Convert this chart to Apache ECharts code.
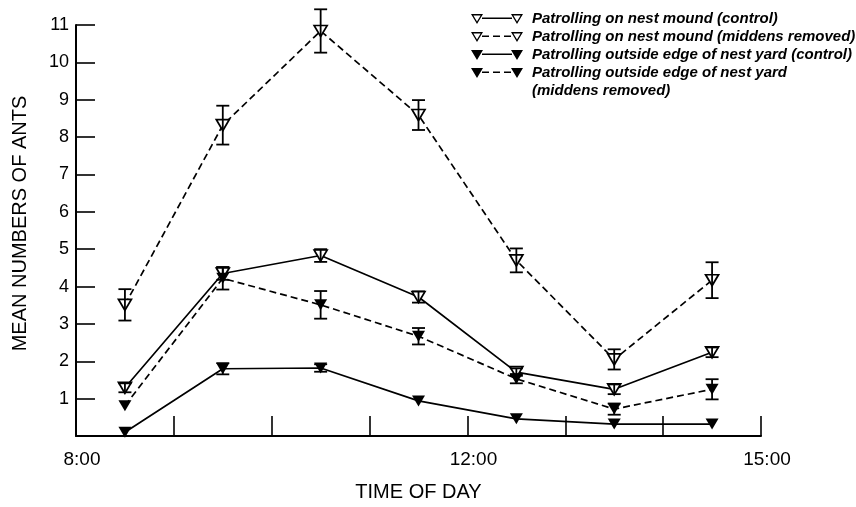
<!DOCTYPE html>
<html>
<head>
<meta charset="utf-8">
<script src="https://cdn.jsdelivr.net/npm/echarts@6/dist/echarts.min.js"></script>
<style>
  html, body { margin: 0; padding: 0; background: #fff; }
  #chart { width: 856px; height: 507px; }
</style>
</head>
<body>
<div id="chart"></div>
<script>
// Sampling times (hours of the day)
const times = [8.5, 9.5, 10.5, 11.5, 12.5, 13.5, 14.5];

// Mean numbers of ants and standard errors for each treatment
const moundControl       = [1.29, 4.35, 4.83, 3.72, 1.71, 1.25, 2.24];
const moundControlErr    = [0.12, 0.17, 0.17, 0.15, 0.10, 0.13, 0.13];
const moundRemoved       = [3.51, 8.32, 10.84, 8.59, 4.70, 2.05, 4.17];
const moundRemovedErr    = [0.42, 0.52, 0.58, 0.40, 0.32, 0.27, 0.48];
const yardControl        = [0.10, 1.80, 1.82, 0.94, 0.46, 0.32, 0.32];
const yardControlErr     = [0.00, 0.15, 0.10, 0.00, 0.00, 0.00, 0.00];
const yardRemoved        = [0.81, 4.22, 3.51, 2.67, 1.53, 0.72, 1.25];
const yardRemovedErr     = [0.00, 0.30, 0.37, 0.22, 0.12, 0.15, 0.27];

const seriesNames = [
  'Patrolling on nest mound (control)',
  'Patrolling on nest mound (middens removed)',
  'Patrolling outside edge of nest yard (control)',
  'Patrolling outside edge of nest yard\n(middens removed)'
];

const xTickLabels = { 8: '8:00', 12: '12:00', 15: '15:00' };
const yTickLabels = ['', '1', '2', '3', '4', '5', '6', '7', '8', '9', '10', '11'];

const FONT = 'Liberation Sans, Arial, sans-serif';
const LEGEND_LINE = 18;
const LEGEND_FIRST_ROW = 14;

// Legend icons: triangle — line — triangle, open or filled, solid or dashed
function tri(x0, open) {
  let p = `M${x0} 0 L${x0 + 12} 0 L${x0 + 6} 10 Z `;
  if (open) p += `M${x0 + 2.4} 1.5 L${x0 + 6} 7.5 L${x0 + 9.6} 1.5 Z `;
  return p;
}
function bar(a, b) {
  return `M${a} 3.6 L${b} 3.6 L${b} 5.1 L${a} 5.1 Z `;
}
function legendIcon(open, dashed) {
  let p = tri(0, open) + tri(40, open);
  if (dashed) p += bar(11, 18) + bar(22, 29) + bar(33, 40);
  else p += bar(11, 41);
  p += 'M56 0 L56 0 Z';
  return 'path://' + p;
}

function lineSeries(name, values, open, dashed) {
  return {
    type: 'line',
    name: name,
    data: times.map((t, i) => [t, values[i]]),
    symbol: 'triangle',
    symbolRotate: 180,
    symbolSize: [13, 11],
    showSymbol: true,
    lineStyle: { color: '#000', width: 1.7, type: dashed ? [7, 4] : 'solid' },
    itemStyle: open
      ? { color: '#fff', borderColor: '#000', borderWidth: 1.7 }
      : { color: '#000', borderColor: '#000', borderWidth: 0 },
    z: 3,
    silent: true,
    animation: false
  };
}

function errorBarSeries(name, values, errs) {
  const data = [];
  times.forEach((t, i) => {
    if (errs[i] > 0) data.push([t, values[i] - errs[i], values[i] + errs[i]]);
  });
  return {
    type: 'custom',
    name: name + ' (SE)',
    data: data,
    encode: { x: 0, y: [1, 2] },
    z: 6,
    silent: true,
    animation: false,
    renderItem: function (params, api) {
      const lo = api.coord([api.value(0), api.value(1)]);
      const hi = api.coord([api.value(0), api.value(2)]);
      const w = 6.5;
      const st = { stroke: '#000', lineWidth: 1.8 };
      return {
        type: 'group',
        children: [
          { type: 'line', shape: { x1: lo[0], y1: lo[1], x2: hi[0], y2: hi[1] }, style: st },
          { type: 'line', shape: { x1: lo[0] - w, y1: lo[1], x2: lo[0] + w, y2: lo[1] }, style: st },
          { type: 'line', shape: { x1: hi[0] - w, y1: hi[1], x2: hi[0] + w, y2: hi[1] }, style: st }
        ]
      };
    }
  };
}

const groups = [
  { values: moundControl, errs: moundControlErr, open: true,  dashed: false },
  { values: moundRemoved, errs: moundRemovedErr, open: true,  dashed: true },
  { values: yardControl,  errs: yardControlErr,  open: false, dashed: false },
  { values: yardRemoved,  errs: yardRemovedErr,  open: false, dashed: true }
];

const series = [];
groups.forEach((g, k) => {
  series.push(lineSeries(seriesNames[k], g.values, g.open, g.dashed));
  series.push(errorBarSeries(seriesNames[k], g.values, g.errs));
});

const legendItems = groups.map((g, k) => ({
  name: seriesNames[k],
  icon: legendIcon(g.open, g.dashed),
  itemStyle: { color: '#000', borderWidth: 0 }
}));

const legendText = {
  fontFamily: FONT,
  fontStyle: 'italic',
  fontWeight: 'bold',
  fontSize: 15,
  color: '#000',
  lineHeight: LEGEND_LINE
};
const legendBase = {
  orient: 'vertical',
  left: 466,
  itemWidth: 56,
  itemHeight: 10,
  itemGap: 0,
  symbolKeepAspect: false,
  selectedMode: false,
  textStyle: legendText
};

const chart = echarts.init(document.getElementById('chart'), null, { renderer: 'canvas' });
chart.setOption({
  backgroundColor: '#fff',
  animation: false,
  grid: { left: 76, right: 95, top: 25, bottom: 67, containLabel: false },
  legend: [
    Object.assign({}, legendBase, {
      top: LEGEND_FIRST_ROW - LEGEND_LINE / 2,
      data: legendItems.slice(0, 3)
    }),
    // two-line entry: a leading blank line keeps the icon level with the first line of text
    Object.assign({}, legendBase, {
      top: LEGEND_FIRST_ROW + 3 * LEGEND_LINE - 1.5 * LEGEND_LINE,
      data: legendItems.slice(3),
      formatter: '\n{name}'
    })
  ],
  xAxis: {
    type: 'value',
    min: 8,
    max: 15,
    interval: 1,
    name: 'TIME OF DAY',
    nameLocation: 'middle',
    nameGap: 46,
    nameTextStyle: { fontFamily: FONT, fontSize: 20, color: '#000' },
    axisLine: { lineStyle: { color: '#000', width: 2 } },
    axisTick: { inside: true, length: 20, lineStyle: { color: '#000', width: 1.6 } },
    axisLabel: {
      fontFamily: FONT,
      fontSize: 19,
      color: '#000',
      margin: 14,
      padding: [0, 0, 0, 12],
      formatter: v => xTickLabels[v] || ''
    },
    splitLine: { show: false }
  },
  yAxis: {
    type: 'value',
    min: 0,
    max: 11,
    interval: 1,
    name: 'MEAN NUMBERS OF ANTS',
    nameLocation: 'middle',
    nameGap: 46,
    nameTextStyle: { fontFamily: FONT, fontSize: 20, color: '#000', padding: [0, 0, 0, 14] },
    axisLine: { lineStyle: { color: '#000', width: 2 } },
    axisTick: { inside: true, length: 19, lineStyle: { color: '#000', width: 1.6 } },
    axisLabel: {
      fontFamily: FONT,
      fontSize: 18,
      color: '#000',
      margin: 7,
      formatter: v => yTickLabels[v] || ''
    },
    splitLine: { show: false }
  },
  series: series
});
</script>
</body>
</html>
